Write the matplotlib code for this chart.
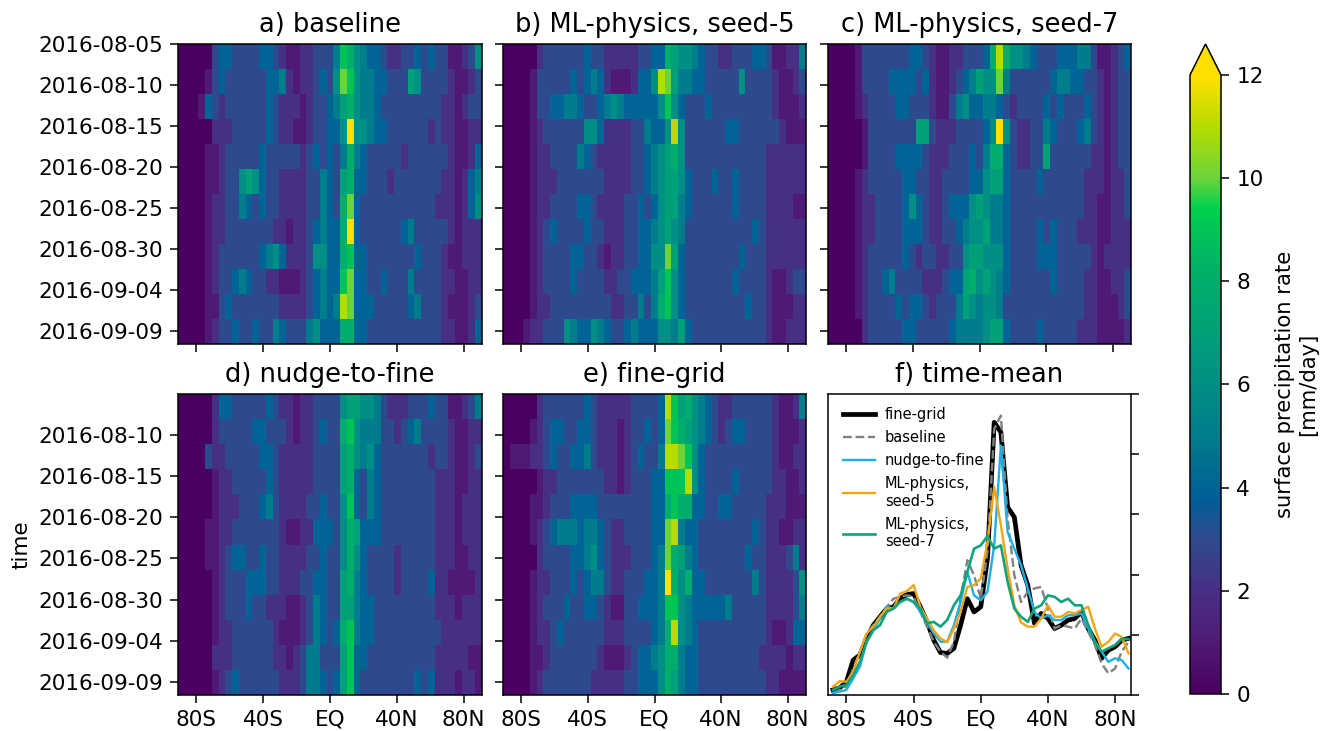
import numpy as np
import matplotlib
matplotlib.use("Agg")
import matplotlib.pyplot as plt
from matplotlib.colors import LinearSegmentedColormap

W, H = 1331, 731
lat_edges = np.linspace(-91, 91, 46)
lats = [-88 + 4 * i for i in range(45)]
time_labels = ['2016-08-05', '2016-08-10', '2016-08-15', '2016-08-20',
               '2016-08-25', '2016-08-30', '2016-09-04', '2016-09-09']
time_ticks = [0, 5, 10, 15, 20, 25, 30, 35]
lat_ticks = [-80, -40, 0, 40, 80]
lat_labels = ['80S', '40S', 'EQ', '40N', '80N']
time_edges = np.linspace(0, 36.6, 13)

baseline = [
 [0,0,0,0,0, 3,4,4,3,3, 3,3,4,4,3, 2,1,1,2,2, 3,3,3,5,9, 8,6,5,4,4, 3,2,2,3,3, 4,3,4,3,3, 1,1,2,3,6],
 [0,0,0,0,1, 3,4,3,3,3, 3,3,3,4,4, 5,2,1,2,2, 3,4,3,6,10, 9,6,5,5,4, 4,3,3,3,7, 6,3,3,3,3, 2,1,1,2,3],
 [0,0,0,1,4, 3,2,3,3,3, 3,3,3,4,3, 2,2,2,1,2, 3,3,4,5,7, 8,6,5,5,4, 3,3,3,3,3, 3,3,3,3,2, 2,1,2,3,3],
 [0,0,0,0,0, 2,2,2,3,3, 3,3,3,4,3, 2,2,1,1,2, 3,3,4,4,6, 12,6,6,5,4, 4,3,3,3,3, 3,3,2,3,2, 2,1,1,2,2],
 [0,0,0,0,1, 1,2,3,3,3, 3,3,4,3,3, 3,3,3,2,3, 4,3,4,3,5, 8,5,4,3,3, 3,3,3,2,3, 3,3,3,3,3, 2,1,1,2,4],
 [0,0,0,0,1, 1,2,3,3,6, 7,6,4,3,3, 2,2,2,2,3, 3,5,4,3,7, 8,4,4,3,3, 3,2,3,3,3, 3,3,3,3,2, 2,1,2,4,5],
 [0,0,0,0,1, 2,2,3,3,5, 4,3,4,3,3, 2,2,2,2,3, 3,5,4,3,8, 10,4,3,3,3, 3,3,3,3,3, 3,3,3,2,2, 2,1,2,4,6],
 [0,0,0,0,1, 2,2,3,3,3, 3,3,3,3,2, 2,1,2,2,3, 4,5,4,4,8, 12,4,3,3,3, 3,3,3,4,5, 3,3,3,3,3, 2,1,2,2,2],
 [0,0,0,0,1, 2,3,3,3,3, 3,3,4,5,6, 4,2,2,2,3, 6,6,4,4,8, 9,4,4,3,3, 3,3,3,3,3, 4,3,3,3,2, 1,1,2,2,2],
 [0,0,0,0,1, 2,3,3,4,5, 4,3,3,2,2, 1,1,1,2,3, 4,5,4,4,9, 10,4,4,3,3, 4,3,3,3,5, 3,3,3,3,2, 2,1,1,2,2],
 [0,0,0,0,1, 1,3,4,3,3, 3,3,3,3,3, 2,2,2,2,3, 4,5,4,5,11, 10,4,4,4,3, 3,3,3,3,4, 5,3,3,3,2, 1,1,1,2,3],
 [0,0,0,0,1, 2,3,3,4,3, 3,4,3,3,5, 4,3,3,3,5, 6,4,4,4,8, 8,4,4,3,3, 3,3,3,3,3, 3,3,3,3,2, 2,1,1,2,4],
]
seed5 = [
 [0,0,0,0,0, 2,3,3,3,3, 3,3,4,3,3, 2,2,2,2,2, 3,3,4,4,8, 7,6,6,5,4, 3,3,2,2,3, 3,3,4,4,3, 1,1,2,2,5],
 [0,0,0,0,1, 3,3,3,3,3, 4,3,4,5,4, 2,1,1,1,2, 4,4,6,11,10, 7,5,5,4,4, 3,3,3,3,3, 6,3,3,3,3, 2,1,1,2,3],
 [0,0,0,0,1, 3,3,4,4,5, 5,4,3,3,4, 5,6,5,4,4, 4,4,4,6,9, 6,4,3,3,3, 4,3,3,3,3, 3,3,3,3,3, 2,1,1,1,2],
 [0,0,0,0,1, 2,3,3,3,3, 3,3,6,6,4, 2,2,2,2,3, 3,5,4,4,6, 11,6,3,3,3, 3,3,3,4,4, 3,3,3,3,3, 3,2,1,1,1],
 [0,0,0,0,1, 2,2,3,3,3, 3,5,4,3,2, 2,2,2,2,3, 3,4,5,6,7, 8,6,3,3,3, 3,3,3,3,3, 3,3,3,3,2, 2,2,2,2,2],
 [0,0,0,0,1, 2,2,2,3,3, 3,3,3,3,3, 2,2,2,2,3, 3,4,5,6,7, 7,6,4,3,3, 3,4,3,3,4, 3,3,3,3,2, 2,2,2,2,2],
 [0,0,0,0,1, 2,2,3,3,3, 3,4,4,3,2, 2,2,2,3,3, 4,3,4,6,7, 7,5,4,3,3, 3,3,3,3,4, 3,3,3,3,2, 2,2,2,1,1],
 [0,0,0,0,1, 2,3,4,3,3, 3,3,4,3,3, 2,2,2,3,3, 4,4,5,6,7, 6,5,3,3,3, 3,3,3,3,3, 3,3,4,3,2, 2,2,2,2,2],
 [0,0,0,0,1, 2,3,3,3,3, 4,4,3,3,2, 1,2,2,3,3, 4,4,6,6,10, 7,4,3,3,3, 3,3,3,3,3, 4,3,3,3,2, 2,2,2,2,2],
 [0,0,0,0,1, 2,3,3,3,3, 4,3,3,3,3, 2,2,3,3,4, 4,4,5,7,9, 6,4,3,3,3, 3,3,3,3,4, 3,3,3,3,2, 1,1,2,3,3],
 [0,0,0,0,1, 2,2,3,3,3, 3,3,3,3,3, 3,2,2,3,3, 5,3,5,8,9, 6,4,3,3,3, 3,3,3,3,3, 3,4,3,3,2, 1,1,1,2,2],
 [0,0,0,1,2, 2,3,3,3,6, 5,4,4,6,5, 4,3,3,4,5, 4,4,4,6,6, 5,7,4,3,3, 3,3,3,3,3, 3,3,3,3,2, 1,1,2,2,2],
]
seed7 = [
 [0,0,0,0,1, 3,3,3,3,3, 3,3,4,4,3, 2,1,1,2,2, 3,3,3,4,8, 11,8,6,6,5, 4,3,3,3,4, 4,4,5,5,3, 1,1,2,3,4],
 [0,0,0,0,1, 3,3,3,3,4, 4,4,4,3,4, 2,1,1,2,3, 4,5,7,6,6, 10,5,3,3,3, 3,3,3,4,5, 5,4,4,3,3, 2,1,2,3,3],
 [0,0,0,0,1, 2,3,3,3,3, 4,4,3,3,3, 2,1,1,3,5, 6,4,4,5,5, 4,3,2,3,3, 3,3,4,3,4, 3,3,3,4,3, 2,1,2,3,3],
 [0,0,0,0,0, 1,3,3,3,3, 3,3,3,7,7, 3,2,2,2,3, 3,3,3,4,6, 12,6,3,2,2, 3,3,5,4,3, 3,3,4,5,3, 2,1,2,3,3],
 [0,0,0,0,0, 1,3,3,3,3, 4,4,4,4,3, 2,2,2,3,3, 3,4,3,5,8, 8,4,3,2,2, 3,3,7,3,3, 3,3,3,3,2, 2,1,2,3,3],
 [0,0,0,0,1, 2,3,3,3,3, 3,4,4,3,3, 2,2,3,3,3, 3,4,4,6,7, 7,4,3,3,3, 3,4,3,3,3, 3,3,3,2,2, 2,1,2,2,3],
 [0,0,0,0,1, 2,2,3,3,3, 3,4,6,4,3, 2,2,3,4,4, 4,6,7,6,5, 5,4,3,3,3, 3,3,3,3,3, 3,3,3,2,2, 1,1,2,2,3],
 [0,0,0,0,1, 2,2,3,3,3, 3,4,4,4,3, 2,2,3,3,4, 5,6,6,7,5, 5,4,3,3,3, 3,4,3,4,3, 3,3,2,2,2, 1,1,2,2,2],
 [0,0,0,0,1, 2,3,3,3,3, 3,4,3,2,3, 3,2,2,3,3, 6,7,7,6,6, 6,4,3,3,3, 3,4,4,4,3, 3,3,3,3,2, 1,2,2,2,2],
 [0,0,0,0,1, 2,3,3,4,5, 3,3,3,3,2, 2,2,3,4,4, 7,8,6,7,6, 5,4,3,3,3, 3,3,3,4,3, 3,3,3,2,2, 1,1,2,2,3],
 [0,0,0,0,1, 2,3,3,3,3, 4,3,4,4,3, 2,3,3,3,5, 7,6,5,6,6, 5,3,3,3,3, 3,3,3,3,3, 3,3,3,2,2, 1,1,1,2,3],
 [0,0,0,0,0, 2,3,3,3,3, 3,4,4,3,3, 3,3,3,4,5, 5,5,5,6,7, 7,4,3,3,3, 3,4,3,3,3, 3,3,2,2,2, 1,1,1,1,2],
]
nudge = [
 [0,0,0,0,0, 2,4,4,3,3, 3,3,3,4,3, 2,2,1,2,2, 3,3,3,3,6, 7,7,6,6,5, 3,2,2,2,3, 3,3,4,3,3, 1,1,2,3,5],
 [0,0,0,0,0, 2,3,3,3,3, 3,4,4,3,3, 3,2,1,2,2, 3,4,3,3,8, 9,6,5,5,5, 3,3,2,3,4, 5,3,3,3,3, 2,1,1,2,2],
 [0,0,0,0,3, 2,2,3,3,3, 3,3,4,4,3, 2,2,2,2,2, 3,3,3,3,7, 8,6,5,6,4, 3,3,3,3,3, 3,3,2,3,3, 2,1,1,2,3],
 [0,0,0,0,0, 1,2,2,3,3, 3,3,3,4,3, 2,2,2,2,2, 3,3,3,3,7, 8,4,3,5,4, 3,3,3,3,3, 3,3,3,2,2, 2,1,1,2,2],
 [0,0,0,0,0, 1,2,2,2,3, 3,3,4,5,3, 2,2,2,2,3, 3,4,3,3,6, 9,4,3,5,4, 3,3,3,3,3, 3,3,3,2,2, 2,1,2,2,2],
 [0,0,0,0,1, 1,2,2,3,3, 3,3,3,3,3, 2,1,1,2,2, 4,4,4,3,6, 8,7,4,4,4, 3,3,3,3,3, 3,3,3,2,2, 2,1,2,2,2],
 [0,0,0,0,1, 1,2,3,4,4, 3,3,4,3,3, 2,2,2,2,3, 3,4,3,3,6, 8,6,4,3,3, 3,3,2,3,3, 3,3,3,2,2, 2,1,1,2,2],
 [0,0,0,0,0, 1,2,3,3,3, 4,4,4,3,3, 2,2,2,3,3, 4,4,3,3,7, 8,5,4,3,3, 3,3,2,3,3, 3,3,4,2,2, 1,1,1,1,2],
 [0,0,0,0,0, 1,2,3,3,3, 4,3,3,2,2, 2,1,1,2,3, 5,4,3,3,7, 7,5,4,4,3, 3,3,3,3,3, 3,3,3,2,2, 2,1,2,2,2],
 [0,0,0,0,0, 1,2,2,3,3, 3,3,3,3,2, 1,1,1,2,3, 5,4,3,4,8, 9,5,4,4,3, 3,3,3,3,3, 3,3,3,3,2, 2,2,2,2,2],
 [0,0,0,0,0, 2,2,2,3,3, 3,3,3,3,2, 2,1,2,3,5, 5,3,3,3,7, 9,4,4,3,3, 3,3,3,3,3, 3,3,3,2,2, 2,2,2,1,1],
 [0,0,0,0,0, 1,2,3,4,3, 3,3,3,3,3, 2,2,2,3,5, 5,4,3,4,7, 9,4,3,3,3, 3,3,3,3,3, 4,3,4,2,2, 2,1,2,2,1],
]
fine = [
 [0,0,0,0,0, 2,3,3,3,3, 3,3,4,3,2, 2,2,2,2,3, 3,3,3,4,11, 9,7,8,6,5, 4,3,2,2,3, 3,3,3,3,3, 2,1,1,2,5],
 [0,0,0,0,1, 2,3,4,4,3, 3,4,4,3,2, 2,2,1,2,3, 3,4,3,4,10, 9,8,7,6,5, 4,3,2,3,4, 4,3,3,3,3, 2,1,1,1,2],
 [0,1,1,1,2, 2,3,4,3,3, 4,4,5,3,2, 2,2,1,2,3, 4,3,3,5,11, 11,10,9,6,4, 3,3,3,3,3, 3,3,3,3,3, 2,1,1,2,2],
 [0,0,0,0,0, 1,2,2,3,3, 3,3,3,3,3, 2,2,1,2,3, 3,3,4,4,9, 9,9,11,6,4, 3,3,3,3,4, 3,3,3,3,3, 2,2,1,1,2],
 [0,0,0,0,1, 1,2,3,3,3, 4,4,4,4,3, 3,3,3,3,3, 3,3,4,4,8, 9,8,8,4,4, 3,3,4,4,3, 3,3,3,3,2, 2,2,1,1,1],
 [0,0,0,0,1, 2,3,4,5,5, 5,4,5,5,4, 3,2,2,3,3, 3,3,4,4,10, 11,5,4,4,3, 3,3,3,3,3, 3,3,4,3,2, 2,1,1,2,2],
 [0,0,0,0,0, 2,3,3,3,3, 4,4,5,6,4, 3,2,2,2,3, 3,3,4,5,10, 8,7,5,4,3, 3,3,3,3,3, 3,4,3,3,2, 2,2,3,5,2],
 [0,0,0,0,1, 2,2,3,3,3, 4,3,4,5,5, 3,2,2,3,3, 3,4,4,5,12, 8,6,8,4,4, 3,3,3,3,3, 3,3,5,3,2, 2,2,2,3,6],
 [0,0,0,0,1, 2,3,3,3,4, 3,3,4,4,3, 2,1,1,3,3, 4,4,4,5,9, 9,6,5,4,4, 4,4,4,5,3, 3,3,3,3,2, 2,2,2,3,5],
 [0,0,0,0,1, 2,2,3,4,3, 3,3,3,3,3, 2,2,2,3,3, 3,3,4,5,8, 11,6,5,4,3, 3,3,3,3,3, 3,3,3,3,2, 1,1,2,4,4],
 [0,0,0,0,1, 1,2,3,3,3, 3,3,3,3,2, 1,1,1,2,3, 4,4,5,6,8, 8,5,4,4,3, 3,3,3,3,3, 3,3,3,2,2, 2,2,1,2,2],
 [0,0,0,0,1, 2,3,3,3,3, 3,3,3,2,2, 2,2,2,3,3, 4,4,4,6,8, 7,5,4,4,3, 3,3,3,3,3, 3,3,3,3,2, 2,1,1,1,1],
]

mean_fine = [.17,.24,.44,1.16,1.33,1.88,2.32,2.6,2.87,2.93,3.2,3.34,3.37,2.93,2.43,1.82,1.41,1.38,1.55,2.32,3.2,2.76,2.93,4.53,9.06,8.73,6.24,5.91,4.31,3.65,2.38,2.71,2.54,2.21,2.32,2.49,2.54,2.76,2.21,1.82,1.22,1.49,1.6,1.82,1.88]
mean_baseline = [.06,.17,.28,.88,1.44,2.04,2.32,2.6,2.93,3.2,3.26,3.31,3.26,2.76,2.27,1.77,1.44,1.24,1.77,3.2,4.48,3.98,3.2,4.75,8.84,9.28,5.86,3.98,3.09,3.43,3.54,3.59,2.87,2.21,2.32,2.27,2.21,2.54,2.1,1.66,1.05,.72,.88,1.44,1.77]
mean_nudge = [.06,.11,.17,.55,.94,1.77,2.15,2.54,2.93,2.87,3.09,3.2,3.09,2.76,2.43,2.04,1.77,1.77,2.32,3.09,4.09,3.31,3.15,3.43,4.97,8.29,5.41,4.86,4.31,3.54,2.76,2.54,2.65,2.49,2.49,2.65,2.65,2.71,2.21,1.77,1.44,1.1,1.22,1.16,.88]
mean_seed5 = [.28,.46,.44,.77,1.44,2.04,2.27,2.6,2.87,2.87,3.37,3.45,3.65,2.93,2.54,2.15,1.88,1.75,2.21,2.76,3.59,3.65,3.87,5.08,6.91,5.64,4.2,2.98,2.41,2.27,2.27,2.54,2.98,2.6,2.6,2.76,2.71,2.82,2.93,2.21,1.6,1.77,2.04,1.93,1.38]
mean_seed7 = [.17,.28,.33,.66,1.1,1.77,2.15,2.32,2.76,2.87,3.09,3.2,3.09,2.87,2.38,2.43,2.27,2.49,2.98,3.31,4.09,4.86,4.97,5.28,4.86,4.97,3.76,2.87,2.6,2.43,2.87,2.98,3.31,3.26,3.09,3.2,2.98,2.98,2.32,1.77,1.44,1.55,1.66,1.86,1.86]

cmap_values = [0, 1, 2, 3, 3.8, 5, 6, 7, 8, 9, 9.45, 10, 11, 12]
cmap_colors = ['#4a0060', '#4f1a76', '#472f86', '#2f4a8e', '#005f98', '#007d8c', '#008f84',
               '#00a078', '#00ad6c', '#00c356', '#00d24c', '#6ad43a', '#b4dc00', '#ffe000']
cmap = LinearSegmentedColormap.from_list(
    'precip', [(v / 12, c) for v, c in zip(cmap_values, cmap_colors)], N=256)
cmap.set_over('#ffe000')

plt.rcParams['font.family'] = 'DejaVu Sans'
fig = plt.figure(figsize=(W / 100, H / 100), dpi=100)

def axpx(x0, y0, x1, y1):
    return fig.add_axes([x0 / W, 1 - y1 / H, (x1 - x0) / W, (y1 - y0) / H])

TICK = 15.5
panels = [
    ('a) baseline', baseline, (178, 44, 482, 344), True, False),
    ('b) ML-physics, seed-5', seed5, (503, 44, 806, 344), False, False),
    ('c) ML-physics, seed-7', seed7, (828, 44, 1131, 344), False, False),
    ('d) nudge-to-fine', nudge, (178, 394, 482, 695), True, True),
    ('e) fine-grid', fine, (503, 394, 806, 695), False, True),
]
mesh = None
for title, data, box, ylab, xlab in panels:
    ax = axpx(*box)
    mesh = ax.pcolormesh(lat_edges, time_edges, np.array(data), cmap=cmap,
                         vmin=0, vmax=12, shading='flat')
    ax.set_ylim(36.6, 0)
    ax.set_xticks(lat_ticks)
    ax.set_xticklabels(lat_labels if xlab else [])
    if box[1] == 44:
        ax.set_yticks(time_ticks)
        lbls = time_labels
    else:
        ax.set_yticks(time_ticks[1:])
        lbls = time_labels[1:]
    ax.set_yticklabels(lbls if ylab else [])
    ax.tick_params(labelsize=TICK, length=5.5, width=1.1, pad=5)
    ax.set_title(title, fontsize=18.5, pad=8.5)
    for s in ax.spines.values():
        s.set_linewidth(1.1)
    if title.startswith('d'):
        ax.set_ylabel('time', fontsize=TICK, labelpad=5)

ax = axpx(828, 394, 1131, 695)
ax.plot(lats, mean_fine, color='black', lw=3.4, label='fine-grid')
ax.plot(lats, mean_baseline, color='gray', lw=1.7, ls='--', label='baseline')
ax.plot(lats, mean_nudge, color='#1cb0e6', lw=1.7, label='nudge-to-fine')
ax.plot(lats, mean_seed5, color='#f2a516', lw=1.7, label='ML-physics,\nseed-5')
ax.plot(lats, mean_seed7, color='#10a37c', lw=1.9, label='ML-physics,\nseed-7')
ax.set_xlim(-91, 89.5)
ax.set_ylim(0, 10)
ax.set_xticks(lat_ticks)
ax.set_xticklabels(lat_labels)
ax.yaxis.tick_right()
ax.set_yticks([0, 2, 4, 6, 8, 10])
ax.set_yticklabels([])
ax.tick_params(labelsize=TICK, length=5.5, width=1.1, pad=5)
ax.set_title('f) time-mean', fontsize=18.5, pad=8.5)
for s in ax.spines.values():
    s.set_linewidth(1.1)
ax.legend(loc='upper left', frameon=False, fontsize=10.5, handlelength=2.2,
          handletextpad=0.7, labelspacing=0.55, borderaxespad=0.3,
          bbox_to_anchor=(0.015, 0.99))

cax = axpx(1190, 44, 1221, 694)
cb = fig.colorbar(mesh, cax=cax, extend='max')
cb.set_ticks([0, 2, 4, 6, 8, 10, 12])
cb.ax.tick_params(labelsize=TICK, length=6, width=1.1, pad=5)
cb.set_label('surface precipitation rate\n[mm/day]', fontsize=15.2, labelpad=8)
cb.outline.set_linewidth(1.1)

fig.savefig('out.png', dpi=100)
